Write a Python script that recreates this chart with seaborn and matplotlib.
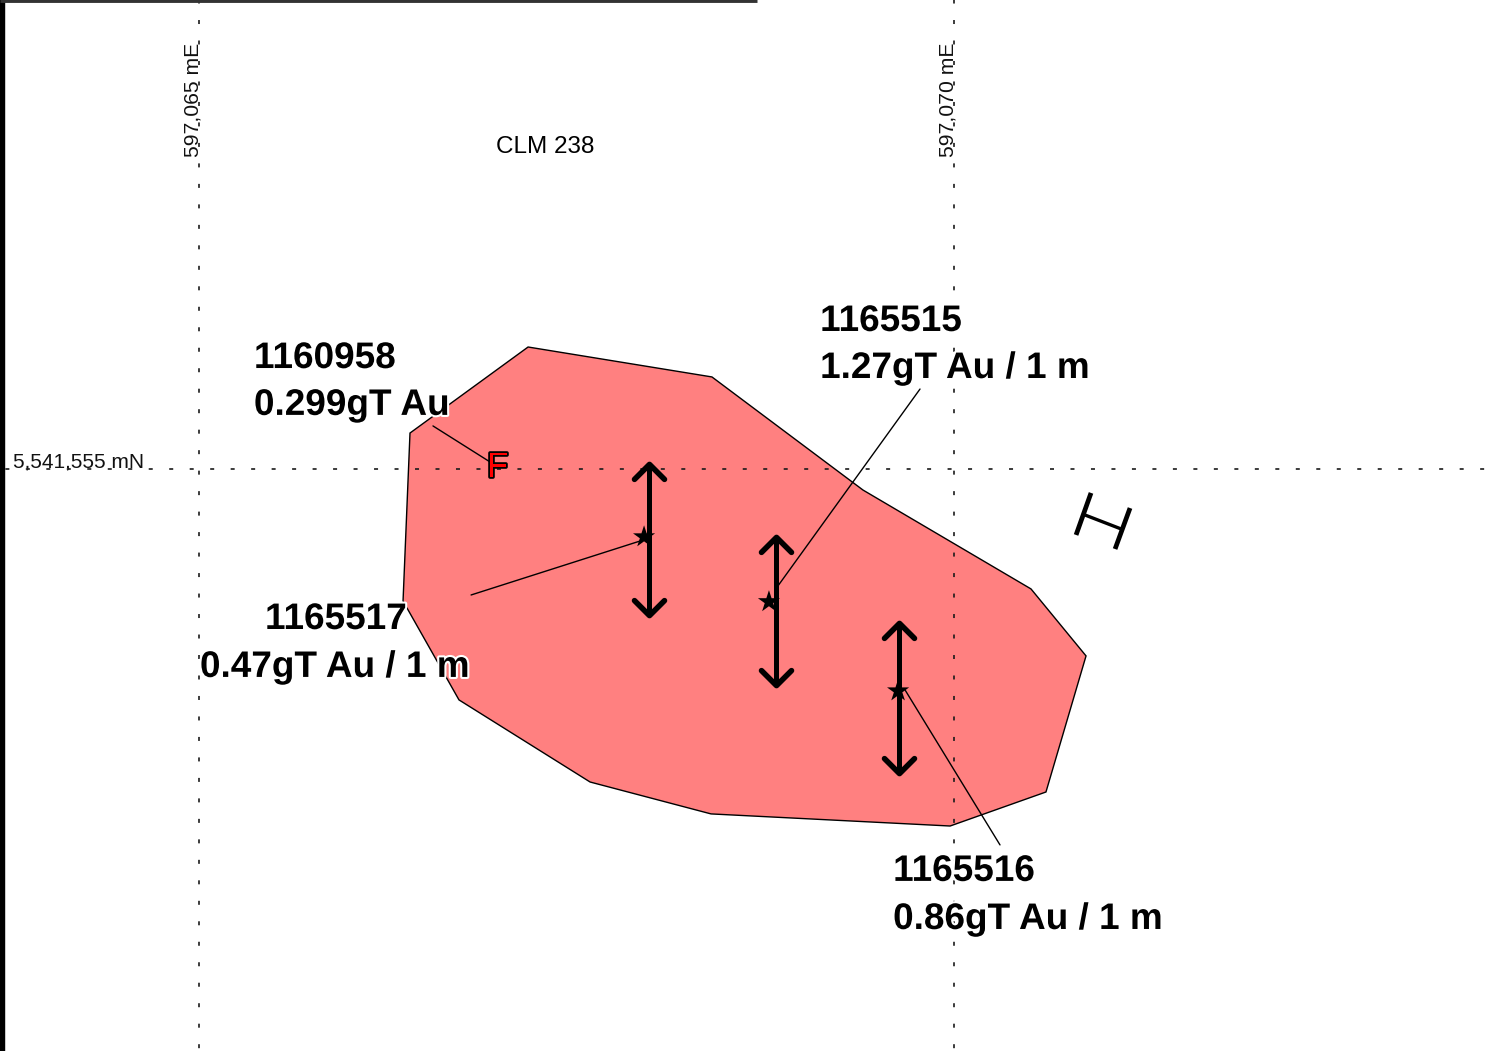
import matplotlib
matplotlib.use("Agg")
import matplotlib.pyplot as plt
import matplotlib.patheffects as pe
from matplotlib.markers import MarkerStyle
from matplotlib.path import Path
import pandas as pd
import seaborn as sns

# Map coordinates, metres relative to 597,065 mE / 5,541,555 mN
grid_east = [0.005, 4.998]
grid_north = [-0.004]
grid_east_labels = ["597,065 mE", "597,070 mE"]
grid_north_label = "5,541,555 mN"

zone_e = [2.183, 3.399, 4.398, 5.509, 5.873, 5.608, 4.974, 3.393, 2.593, 1.726, 1.356, 1.402]
zone_n = [0.800, 0.602, -0.146, -0.800, -1.243, -2.143, -2.368, -2.288, -2.077, -1.534, -0.880, 0.231]

trench_e = [2.983, 3.823, 4.636]
trench_top = [0.053, -0.430, -0.999]
trench_bottom = [-0.999, -1.462, -2.044]

star_e = [2.950, 3.776, 4.630]
star_n = [-0.456, -0.885, -1.475]

leader_id = [0, 0, 1, 1, 2, 2, 3, 3]
leader_e = [1.806, 2.924, 4.775, 3.816, 5.304, 4.676, 1.554, 1.931]
leader_n = [-0.840, -0.483, 0.522, -0.807, -2.493, -1.468, 0.278, 0.040]

sample_ids = ["1160958", "1165515", "1165517", "1165516"]
sample_grades = ["0.299gT Au", "1.27gT Au / 1 m", "0.47gT Au / 1 m", "0.86gT Au / 1 m"]
id_pos = [(0.370, 0.661), (4.114, 0.906), (0.443, -1.065), (4.597, -2.731)]
grade_pos = [(0.370, 0.351), (4.114, 0.595), (0.013, -1.382), (4.597, -3.049)]

claim_label = "CLM 238"
claim_pos = (2.295, 2.084)
fault_label = "F"
fault_pos = (1.981, -0.057)

symbol_id = [0, 0, 1, 1, 2, 2]
symbol_e = [5.906, 5.807, 6.164, 6.065, 5.866, 6.104]
symbol_n = [-0.165, -0.443, -0.265, -0.536, -0.311, -0.403]
symbol_width = [3.4, 3.4, 2.4]

sns.set_theme(style="white")
plt.rcParams["font.family"] = ["Liberation Sans", "DejaVu Sans"]

fig = plt.figure(figsize=(14.89, 10.51), dpi=100)
ax = fig.add_axes([0, 0, 1, 1])
ax.set_xlim(-1.3095, 8.538)
ax.set_ylim(-3.856, 3.095)
ax.axis("off")

ax.fill(zone_e, zone_n, facecolor="#ff8080", edgecolor="black", linewidth=1.0, zorder=1)

for e in grid_east:
    ax.axvline(e, color="#1a1a1a", linewidth=1.2, linestyle=(10.6, (2.4, 9.89)), zorder=2)
for n in grid_north:
    ax.axhline(n, color="#1a1a1a", linewidth=1.2, linestyle=(9.08, (2.4, 9.89)), zorder=2)

for e, lab in zip(grid_east, grid_east_labels):
    ax.text(e + 0.025, 2.055, lab, rotation=90, ha="right", va="bottom", fontsize=15.2, color="#111111", zorder=3)
ax.text(-1.225, -0.026, grid_north_label, ha="left", va="bottom", fontsize=15, color="#111111", zorder=3)
ax.text(*claim_pos, claim_label, ha="center", va="baseline", fontsize=17.5, color="black", zorder=3)

leaders = pd.DataFrame({"id": leader_id, "e": leader_e, "n": leader_n})
sns.lineplot(data=leaders, x="e", y="n", units="id", estimator=None, sort=False,
             color="black", linewidth=1.0, ax=ax, legend=False, zorder=4)

symbol = pd.DataFrame({"id": symbol_id, "e": symbol_e, "n": symbol_n})
for sid, lw in zip(sorted(set(symbol_id)), symbol_width):
    sns.lineplot(data=symbol[symbol["id"] == sid], x="e", y="n", estimator=None, sort=False,
                 color="black", linewidth=lw, ax=ax, legend=False, zorder=4, solid_capstyle="butt")

# Double-headed arrows: shaft plus an open chevron whose tip sits on the end point
up = Path([(-10.8, -13.6), (0, -2.8), (10.8, -13.6)], [Path.MOVETO, Path.LINETO, Path.LINETO])
down = Path([(-10.8, 13.6), (0, 2.8), (10.8, 13.6)], [Path.MOVETO, Path.LINETO, Path.LINETO])
shaft_inset = 0.025
for e, top, bottom in zip(trench_e, trench_top, trench_bottom):
    ax.plot([e, e], [top - shaft_inset, bottom + shaft_inset], color="black", linewidth=3.6,
            solid_capstyle="butt", zorder=5)
    for y, head in ((top, up), (bottom, down)):
        ax.plot([e], [y], linestyle="none", zorder=5, markersize=27.2, markeredgewidth=4.0,
                markeredgecolor="black", markerfacecolor="none",
                marker=MarkerStyle(head, fillstyle="none", capstyle="round", joinstyle="miter"))

stars = pd.DataFrame({"e": star_e, "n": star_n})
sns.scatterplot(data=stars, x="e", y="n", marker="*", s=280, color="black", edgecolor="none",
                ax=ax, legend=False, zorder=6)

ax.text(*fault_pos, fault_label, ha="center", va="baseline", fontsize=25, color="#ff0000", zorder=7,
        path_effects=[pe.withStroke(linewidth=2.6, foreground="black")])

halo = [pe.withStroke(linewidth=3, foreground="white")]
for sid, grade, p1, p2 in zip(sample_ids, sample_grades, id_pos, grade_pos):
    for s, p in ((sid, p1), (grade, p2)):
        ax.text(*p, s, ha="left", va="baseline", fontsize=26.6, fontweight="bold", color="black",
                zorder=8, path_effects=halo)

# Page frame fragments
ax.axvline(-1.3095, color="black", linewidth=7.5, zorder=9)
ax.plot([0, 0.5085], [1, 1], transform=ax.transAxes, color="#333333", linewidth=3.5, zorder=9,
        solid_capstyle="butt")

ax.set_xlabel("")
ax.set_ylabel("")
fig.savefig("out.png", dpi=100)
